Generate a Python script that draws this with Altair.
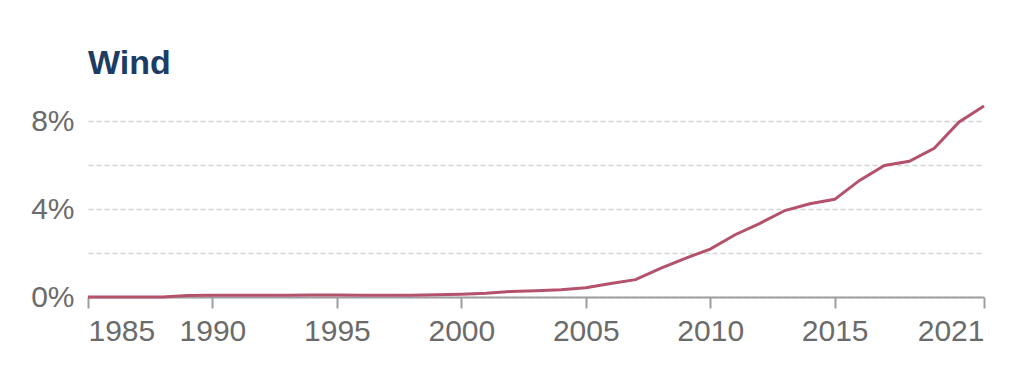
import altair as alt
import pandas as pd

years = list(range(1985, 2022))
share = [0.0, 0.0, 0.0, 0.0, 0.07, 0.08, 0.08, 0.08, 0.08, 0.09,
         0.09, 0.08, 0.08, 0.08, 0.10, 0.13, 0.17, 0.25, 0.28, 0.33,
         0.42, 0.61, 0.79, 1.30, 1.76, 2.18, 2.83, 3.35, 3.93, 4.24,
         4.44, 5.30, 5.98, 6.17, 6.76, 7.96, 8.68]
tick_years = [1985, 1990, 1995, 2000, 2005, 2010, 2015, 2021]
y_ticks = [0, 2, 4, 6, 8]

df = pd.DataFrame({"year": years, "share": share})

label_expr = "datum.value % 4 === 0 ? datum.value + '%' : ''"

chart = alt.Chart(df).mark_line(color="#b5526b", strokeWidth=3).encode(
    x=alt.X("year:Q",
            scale=alt.Scale(domain=[1985, 2021], nice=False, zero=False),
            axis=alt.Axis(values=tick_years, format="d", title=None,
                          grid=False, domainColor="#9e9e9e", domainWidth=2,
                          tickColor="#9e9e9e", tickWidth=2, tickSize=11,
                          labelFontSize=30, labelColor="#6b6b6b",
                          labelFont="Liberation Sans", labelPadding=8,
                          labelFlush=True)),
    y=alt.Y("share:Q",
            scale=alt.Scale(domain=[0, 9], nice=False),
            axis=alt.Axis(values=y_ticks, labelExpr=label_expr, title=None,
                          domain=False, ticks=False, grid=True,
                          gridColor="#d4d4d4", gridDash=[5, 3], gridWidth=1.5,
                          labelFontSize=30, labelColor="#6b6b6b",
                          labelFont="Liberation Sans", labelPadding=14,
                          minExtent=80, maxExtent=80)),
).properties(
    width=896,
    height=198,
    padding={"left": 0, "top": 39, "right": 20, "bottom": 5},
    title=alt.TitleParams("Wind", anchor="start", frame="group",
                          font="Liberation Sans", fontSize=34,
                          fontWeight="bold", color="#1d3c64", offset=18),
).configure_view(stroke=None)

chart.save("out.html", embed_options={"renderer": "svg", "actions": False})
